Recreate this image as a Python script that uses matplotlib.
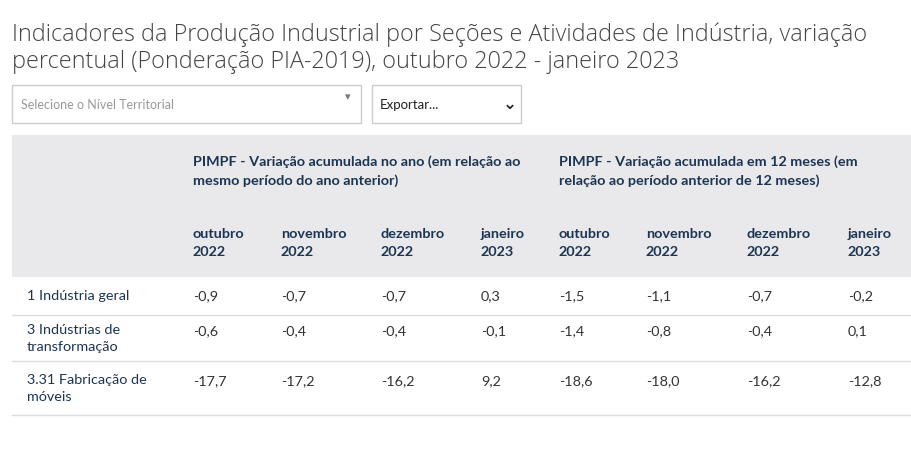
import matplotlib
matplotlib.use("Agg")
import matplotlib.pyplot as plt
from matplotlib.patches import Rectangle

title_lines = ["Indicadores da Produção Industrial por Seções e Atividades de Indústria, variação",
               "percentual (Ponderação PIA-2019), outubro 2022 - janeiro 2023"]
group_headers = ["PIMPF - Variação acumulada no ano (em relação ao\nmesmo período do ano anterior)",
                 "PIMPF - Variação acumulada em 12 meses (em\nrelação ao período anterior de 12 meses)"]
periods = ["outubro\n2022", "novembro\n2022", "dezembro\n2022", "janeiro\n2023"] * 2
row_labels = ["1 Indústria geral", "3 Indústrias de\ntransformação", "3.31 Fabricação de\nmóveis"]
values = [
    ["-0,9", "-0,7", "-0,7", "0,3", "-1,5", "-1,1", "-0,7", "-0,2"],
    ["-0,6", "-0,4", "-0,4", "-0,1", "-1,4", "-0,8", "-0,4", "0,1"],
    ["-17,7", "-17,2", "-16,2", "9,2", "-18,6", "-18,0", "-16,2", "-12,8"],
]

W, H = 912, 452
fig = plt.figure(figsize=(W/100, H/100), dpi=100)
ax = fig.add_axes([0, 0, 1, 1])
ax.set_xlim(0, W); ax.set_ylim(H, 0); ax.axis("off")

navy = "#1c3553"
gray = "#333333"
fam = ["Lato", "DejaVu Sans"]
tfam = ["Open Sans", "DejaVu Sans"]

ax.text(12, 35, title_lines[0], fontsize=16.8, color="#444444", family=tfam, va="center", fontweight="light")
ax.text(12, 62, title_lines[1], fontsize=16.8, color="#444444", family=tfam, va="center", fontweight="light")

# dropdowns
ax.add_patch(Rectangle((12, 86), 349, 38, fc="white", ec="#cccccc", lw=1))
ax.text(21, 105, "Selecione o Nível Territorial", fontsize=9, color="#999999", family=fam, va="center")
ax.text(348, 97, "▾", fontsize=8, color="#777777", family=fam, va="center", ha="center")
ax.add_patch(Rectangle((372, 86), 149, 38, fc="white", ec="#cccccc", lw=1))
ax.text(380, 105, "Exportar...", fontsize=9.5, color="#222222", family=fam, va="center")
ax.text(510, 104, "⌄", fontsize=12, color="#222222", family=["DejaVu Sans"], va="center", ha="center", fontweight="bold")

# header bg
ax.add_patch(Rectangle((12, 136), 900, 142, fc="#e9e9eb", ec="none"))

fs = 10.4
colx = [193, 281, 381, 481, 559, 646, 747, 848]
ax.text(colx[0], 171, group_headers[0], fontsize=fs, color=navy, family=fam, fontweight="bold", va="center", linespacing=1.65)
ax.text(colx[4], 171, group_headers[1], fontsize=fs, color=navy, family=fam, fontweight="bold", va="center", linespacing=1.65)
for x, p in zip(colx, periods):
    ax.text(x, 243, p, fontsize=fs, color=navy, family=fam, fontweight="bold", va="center", linespacing=1.65)

row_y = [296, 339, 389]
row_bounds = [316, 362, 416]
for y, lab, vals, b in zip(row_y, row_labels, values, row_bounds):
    ax.text(27, y, lab, fontsize=fs, color=navy, family=fam, va="center", linespacing=1.5)
    for x, v in zip(colx, vals):
        ax.text(x, y - (8 if "\n" in lab else 0), v, fontsize=fs, color=gray, family=fam, va="center")
    ax.plot([12, 912], [b, b], color="#dddddd", lw=1)

fig.savefig("out.png", dpi=100)
